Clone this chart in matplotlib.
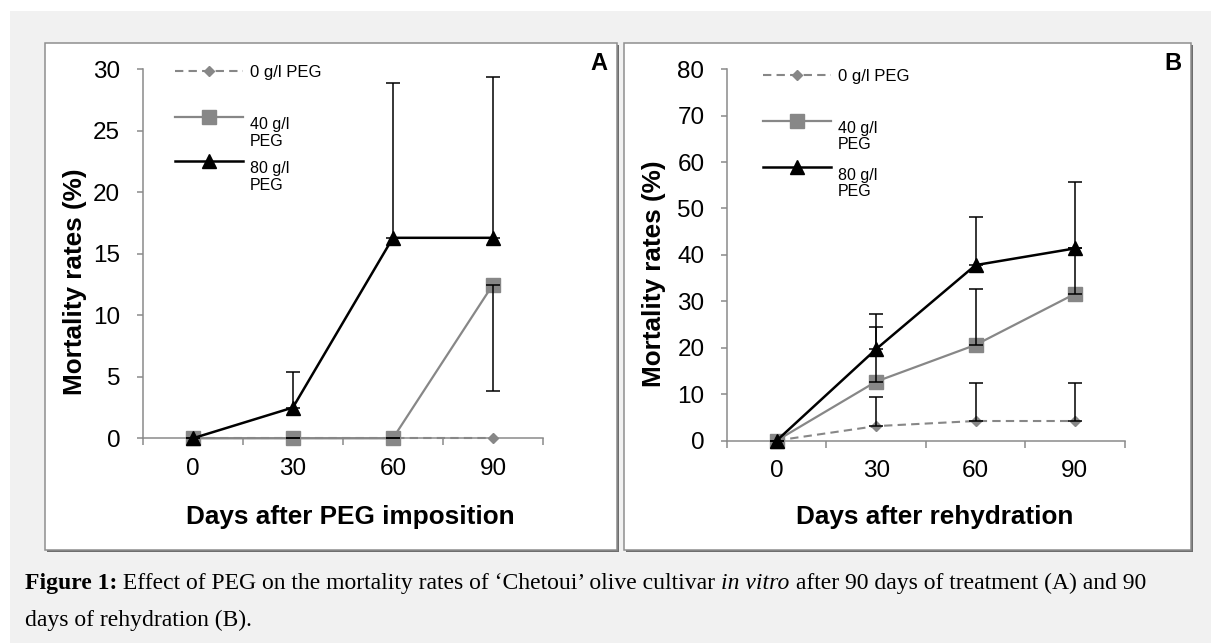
import numpy as np
import matplotlib
matplotlib.use('Agg')
import matplotlib.pyplot as plt
from matplotlib.patches import Rectangle
from matplotlib.lines import Line2D

W, H = 1211, 643

jours = ['0', '30', '60', '90']
series = ['0 g/l PEG', '40 g/l\nPEG', '80 g/l\nPEG']

# A : jours après imposition du PEG
a_peg0 = [0, 0, 0, 0]
a_peg40 = [0, 0, 0, 12.5]
a_peg80 = [0, 2.5, 16.3, 16.3]
a_err40_bas = [0, 0, 0, 8.65]
a_err80_haut = [0, 2.9, 12.6, 13.1]

# B : jours après réhydratation
b_peg0 = [0, 3.1, 4.2, 4.2]
b_peg40 = [0, 12.7, 20.6, 31.6]
b_peg80 = [0, 19.7, 37.8, 41.4]
b_err0_haut = [0, 6.2, 8.3, 8.3]
b_err40_haut = [0, 11.8, 12.0, 9.8]
b_err80_haut = [0, 7.5, 10.4, 14.4]

gris = '#878787'
gris_axe = '#8a8a8a'
zeros = [0, 0, 0, 0]

plt.rcParams['font.family'] = ['Liberation Sans', 'DejaVu Sans']

fig = plt.figure(figsize=(W / 100, H / 100), dpi=100)
fig.patch.set_facecolor('white')


def px(x, y):
    return x / W, 1 - y / H


# fond gris + cadres des deux panneaux
fig.add_artist(Rectangle(px(10, H), (W - 10) / W, (H - 11) / H, transform=fig.transFigure,
                         facecolor='#f1f1f1', edgecolor='none', zorder=-5))
for (x0, x1) in [(45, 617), (624, 1191)]:
    y0, y1 = 43, 550
    fig.add_artist(Rectangle(px(x0 + 1.5, y1 + 1.5), (x1 - x0) / W, (y1 - y0) / H, transform=fig.transFigure,
                             facecolor='#6e6e6e', edgecolor='none', zorder=-4))
    fig.add_artist(Rectangle(px(x0, y1), (x1 - x0) / W, (y1 - y0) / H, transform=fig.transFigure,
                             facecolor='white', edgecolor='#8e8e8e', lw=1.1, zorder=-3))


def axe(bbox):
    l, t, r, b = bbox
    ax = fig.add_axes([l / W, 1 - b / H, (r - l) / W, (b - t) / H])
    ax.set_facecolor('none')
    return ax


def prepare(ax, ymax, ystep, xlabel, xlab, ylab):
    ax.set_xlim(-0.5, 3.5)
    ax.set_ylim(0, ymax)
    ax.set_yticks(np.arange(0, ymax + 1, ystep))
    ax.set_xticks(np.arange(-0.5, 4, 1))
    ax.set_xticklabels([])
    ax.set_xticks(range(len(jours)), minor=True)
    ax.set_xticklabels(jours, minor=True)
    ax.tick_params(axis='x', which='major', length=5, width=1.1, color=gris_axe, direction='out')
    ax.tick_params(axis='x', which='minor', length=0, pad=14, labelsize=17.5)
    ax.tick_params(axis='y', length=4.3, width=1.1, color=gris_axe, pad=12, labelsize=17.5)
    for s in ['top', 'right']:
        ax.spines[s].set_visible(False)
    for s in ['left', 'bottom']:
        ax.spines[s].set_color(gris_axe)
        ax.spines[s].set_linewidth(1.1)
    ax.set_xlabel(xlabel, fontsize=18.8, fontweight='bold', va='center')
    ax.xaxis.set_label_coords(*xlab)
    ax.set_ylabel('Mortality rates (%)', fontsize=18.8, fontweight='bold', va='center')
    ax.yaxis.set_label_coords(*ylab)


def courbes(ax, v0, v40, v80):
    x = range(len(jours))
    ax.plot(x, v0, color=gris, lw=1.5, ls=(0, (4, 2.5)), marker='D', ms=5,
            mfc=gris, mec=gris, clip_on=False, zorder=3)
    ax.plot(x, v40, color=gris, lw=1.6, marker='s', ms=10.5,
            mfc=gris, mec=gris, clip_on=False, zorder=4)
    ax.plot(x, v80, color='black', lw=1.8, marker='^', ms=10,
            mfc='black', mec='black', clip_on=False, zorder=5)


def barres(ax, v, bas, haut):
    ax.errorbar(range(len(jours)), v, yerr=[bas, haut], fmt='none', ecolor='black',
                elinewidth=1.1, capsize=5, capthick=1.1, zorder=6, clip_on=False)


def legende(x0, x1, ys, xt):
    styles = [dict(color=gris, lw=1.5, ls=(0, (4, 2.5)), marker='D', ms=5, mfc=gris, mec=gris),
              dict(color=gris, lw=1.6, marker='s', ms=10.5, mfc=gris, mec=gris),
              dict(color='black', lw=1.8, marker='^', ms=10, mfc='black', mec='black')]
    xm = (x0 + x1) / 2
    for nom, st, y in zip(series, styles, ys):
        fig.add_artist(Line2D([x0 / W, x1 / W], [1 - y / H] * 2, transform=fig.transFigure,
                              **{k: v for k, v in st.items() if k not in ('marker', 'ms', 'mfc', 'mec')}))
        fig.add_artist(Line2D([xm / W], [1 - y / H], transform=fig.transFigure, ls='none',
                              marker=st['marker'], ms=st['ms'], mfc=st['mfc'], mec=st['mec']))
        lignes = nom.split('\n')
        if len(lignes) == 1:
            fig.text(xt / W, 1 - y / H, lignes[0], fontsize=12, va='center_baseline', ha='left')
        else:
            for i, l in enumerate(lignes):
                fig.text(xt / W, 1 - (y + 12.5 + 16 * i) / H, l, fontsize=11.5, va='baseline', ha='left')


# Panneau A
axA = axe((142.8, 69.3, 543, 438.3))
prepare(axA, 30, 5, 'Days after PEG imposition', (0.5195, -0.213), (-0.169, 0.425))
courbes(axA, a_peg0, a_peg40, a_peg80)
barres(axA, a_peg40, a_err40_bas, zeros)
barres(axA, a_peg80, zeros, a_err80_haut)
legende(175, 243, [71, 117, 161], 250)
fig.text(*px(599, 64), 'A', fontsize=17, fontweight='bold', ha='center', va='center')

# Panneau B
axB = axe((727.1, 69.3, 1124.6, 440.5))
prepare(axB, 80, 10, 'Days after rehydration', (0.523, -0.207), (-0.183, 0.448))
courbes(axB, b_peg0, b_peg40, b_peg80)
barres(axB, b_peg0, zeros, b_err0_haut)
barres(axB, b_peg40, zeros, b_err40_haut)
barres(axB, b_peg80, zeros, b_err80_haut)
legende(763, 831, [75, 121, 167], 838)
fig.text(*px(1173, 63), 'B', fontsize=17, fontweight='bold', ha='center', va='center')

# Légende de la figure (texte en plusieurs morceaux)
serif = ['Liberation Serif', 'DejaVu Serif']
morceaux = [('Figure 1:', 'bold', 'normal'),
            (' Effect of PEG on the mortality rates of \u2018Chetoui\u2019 olive cultivar ', 'normal', 'normal'),
            ('in vitro', 'normal', 'italic'),
            (' after 90 days of treatment (A) and 90', 'normal', 'normal')]
renderer = fig.canvas.get_renderer()
x = 25
for txt, poids, style in morceaux:
    t = fig.text(x / W, 1 - 589 / H, txt, fontsize=17, family=serif, fontweight=poids,
                 fontstyle=style, va='baseline', ha='left')
    x = t.get_window_extent(renderer).x1
fig.text(25 / W, 1 - 626 / H, 'days of rehydration (B).', fontsize=17, family=serif,
         va='baseline', ha='left')

fig.savefig('out.png', dpi=100, facecolor=fig.get_facecolor())
